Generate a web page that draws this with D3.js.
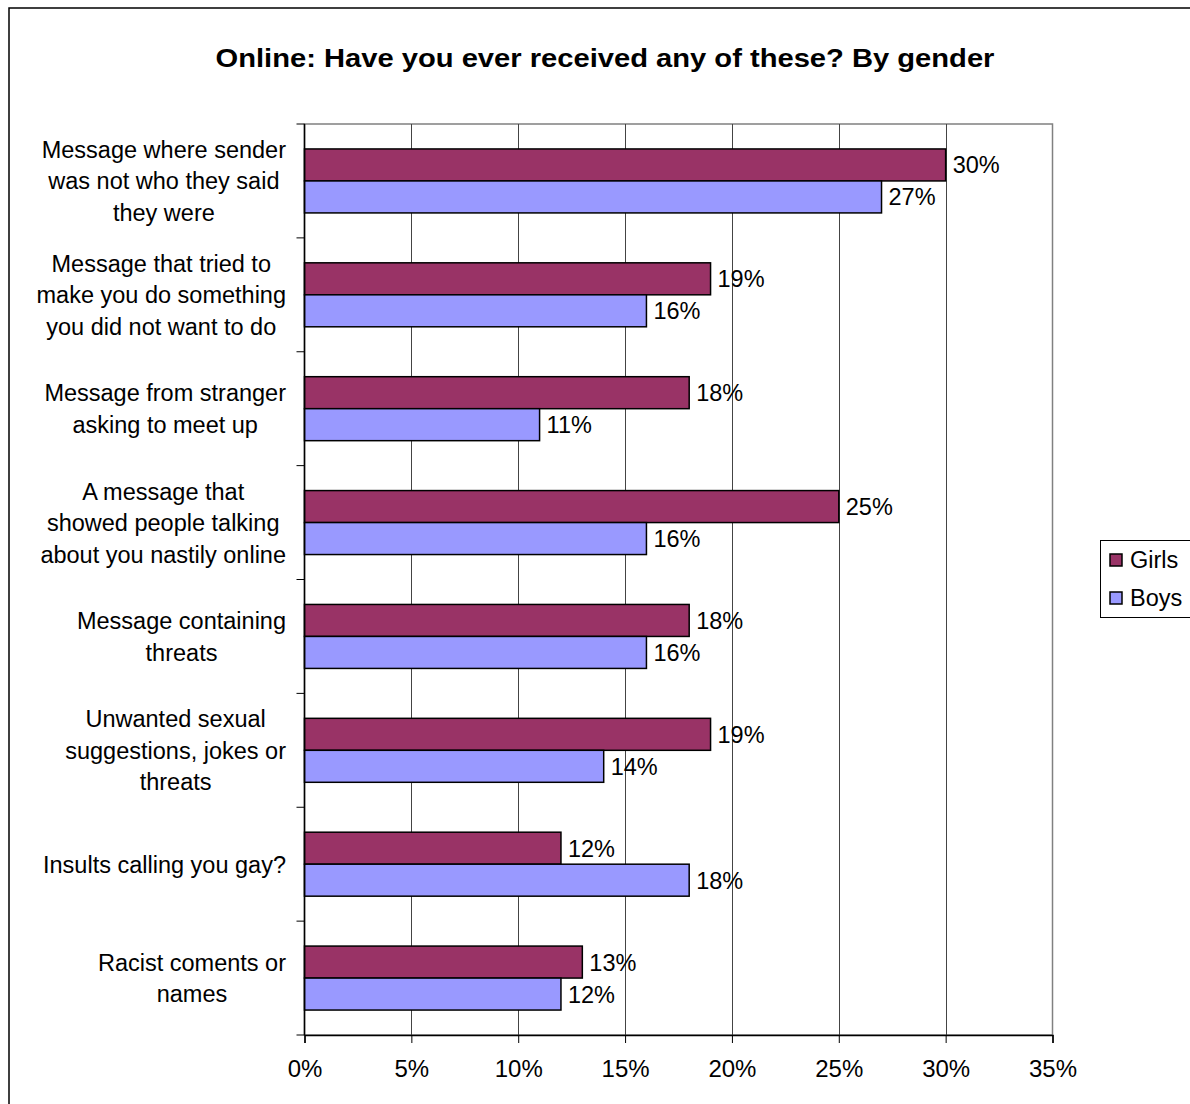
<!DOCTYPE html>
<html>
<head>
<meta charset="utf-8">
<script src="https://cdn.jsdelivr.net/npm/d3@7"></script>
<style>
  html, body { margin: 0; padding: 0; background: #fff; }
  svg { display: block; font-family: "Liberation Sans", Arial, sans-serif; }
</style>
</head>
<body>
<svg id="chart" width="1190" height="1104"></svg>
<script>
// Survey answers, percent of respondents
const categories = [
  ["Message where sender", "was not who they said", "they were"],
  ["Message that tried to", "make you do something", "you did not want to do"],
  ["Message from stranger", "asking to meet up"],
  ["A message that", "showed people talking", "about you nastily online"],
  ["Message containing", "threats"],
  ["Unwanted sexual", "suggestions, jokes or", "threats"],
  ["Insults calling you gay?"],
  ["Racist coments or", "names"]
];
const seriesNames = ["Girls", "Boys"];
const girls = [30, 19, 18, 25, 18, 19, 12, 13];
const boys  = [27, 16, 11, 16, 16, 14, 18, 12];
const xTicks = [0, 5, 10, 15, 20, 25, 30, 35];
const colors = ["#993366", "#9999FF"];

const svg = d3.select("#chart");
const plot = { left: 304.5, right: 1052.5, top: 124, bottom: 1035 };
const fontSize = 23.5;

// outer chart frame
svg.append("rect")
  .attr("x", 9).attr("y", 8).attr("width", 1200).attr("height", 1110)
  .attr("fill", "#fff").attr("stroke", "#000").attr("stroke-width", 1.5);

svg.append("text")
  .attr("transform", "translate(605,67) scale(1.1,1)")
  .attr("text-anchor", "middle")
  .attr("font-size", 26.5).attr("font-weight", "bold")
  .text("Online: Have you ever received any of these? By gender");

const x = d3.scaleLinear().domain([0, 35]).range([plot.left, plot.right]);
const y = d3.scaleBand().domain(d3.range(categories.length))
  .range([plot.top, plot.bottom]).paddingInner(0).paddingOuter(0);
const inner = d3.scaleBand().domain(seriesNames)
  .range([0, y.bandwidth()]).paddingOuter(0.78).paddingInner(0);

// plot border
svg.append("rect")
  .attr("x", plot.left).attr("y", plot.top)
  .attr("width", plot.right - plot.left).attr("height", plot.bottom - plot.top)
  .attr("fill", "#fff").attr("stroke", "#808080").attr("stroke-width", 1.5);

// vertical gridlines
svg.append("g").selectAll("line")
  .data(xTicks.filter(t => t > 0 && t < 35))
  .join("line")
  .attr("x1", d => Math.round(x(d)) + 0.5).attr("x2", d => Math.round(x(d)) + 0.5)
  .attr("y1", plot.top).attr("y2", plot.bottom)
  .attr("stroke", "#444").attr("stroke-width", 1);

// bars
const rows = categories.map((c, i) => ({ i, values: [girls[i], boys[i]] }));
const groups = svg.append("g").selectAll("g")
  .data(rows).join("g")
  .attr("transform", d => `translate(0,${y(d.i)})`);

groups.selectAll("rect")
  .data(d => d.values.map((v, k) => ({ v, k })))
  .join("rect")
  .attr("x", x(0))
  .attr("y", d => inner(seriesNames[d.k]))
  .attr("width", d => x(d.v) - x(0))
  .attr("height", inner.bandwidth())
  .attr("fill", d => colors[d.k])
  .attr("stroke", "#000").attr("stroke-width", 1.5);

groups.selectAll("text")
  .data(d => d.values.map((v, k) => ({ v, k })))
  .join("text")
  .attr("x", d => x(d.v) + 7)
  .attr("y", d => inner(seriesNames[d.k]) + inner.bandwidth() / 2)
  .attr("dy", "0.36em")
  .attr("font-size", fontSize)
  .text(d => d.v + "%");

// x axis
const xAxis = svg.append("g")
  .attr("transform", `translate(0,${plot.bottom})`)
  .call(d3.axisBottom(x).tickValues(xTicks).tickFormat(d => d + "%").tickSize(8).tickPadding(17));
xAxis.select(".domain").attr("stroke", "#000").attr("stroke-width", 1.5);
xAxis.selectAll(".tick line").attr("stroke", "#000").attr("stroke-width", 1);
xAxis.selectAll(".tick text").attr("font-size", 24).attr("fill", "#000")
  .attr("font-family", "Liberation Sans, Arial, sans-serif");

// y axis line and category boundary ticks
svg.append("line")
  .attr("x1", plot.left).attr("x2", plot.left)
  .attr("y1", plot.top).attr("y2", plot.bottom)
  .attr("stroke", "#000").attr("stroke-width", 1.5);
svg.append("g").selectAll("line")
  .data(d3.range(categories.length + 1))
  .join("line")
  .attr("x1", plot.left - 8).attr("x2", plot.left)
  .attr("y1", d => plot.top + d * y.step()).attr("y2", d => plot.top + d * y.step())
  .attr("stroke", "#000").attr("stroke-width", 1);

// category labels: wrapped lines centered on each other, block right-aligned
const lineH = 31.5;
const labelRight = 286;
categories.forEach((lines, i) => {
  const g = svg.append("g");
  const cy = y(i) + y.bandwidth() / 2;
  const texts = lines.map((s, j) => g.append("text")
    .attr("font-size", fontSize)
    .attr("text-anchor", "middle")
    .attr("y", cy + (j - (lines.length - 1) / 2) * lineH)
    .attr("dy", "0.36em")
    .text(s));
  const maxW = d3.max(texts, t => t.node().getComputedTextLength());
  texts.forEach(t => t.attr("x", labelRight - maxW / 2));
});

// legend
const legend = svg.append("g");
legend.append("rect")
  .attr("x", 1100.5).attr("y", 540.5).attr("width", 120).attr("height", 77)
  .attr("fill", "#fff").attr("stroke", "#000").attr("stroke-width", 1);
seriesNames.forEach((name, k) => {
  const yy = 560 + k * 38;
  legend.append("rect")
    .attr("x", 1110).attr("y", yy - 6).attr("width", 12).attr("height", 12)
    .attr("fill", colors[k]).attr("stroke", "#000").attr("stroke-width", 1.5);
  legend.append("text")
    .attr("x", 1130).attr("y", yy).attr("dy", "0.36em")
    .attr("font-size", fontSize).text(name);
});
</script>
</body>
</html>
